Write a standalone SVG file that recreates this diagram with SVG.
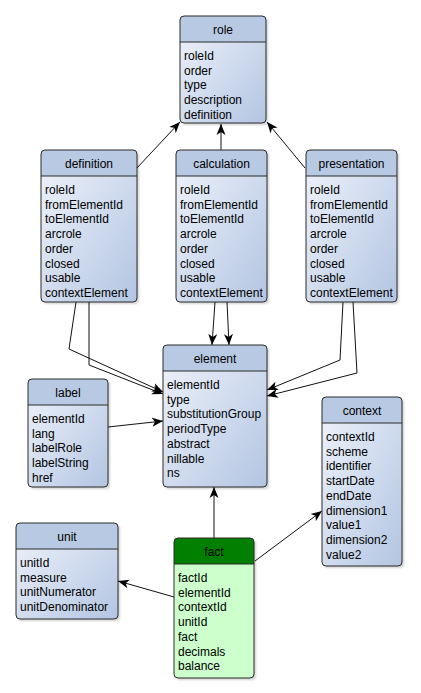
<svg xmlns="http://www.w3.org/2000/svg" width="421" height="693" viewBox="0 0 421 693">
<style>
.body{fill:url(#bg);stroke:none}
.fbody{fill:#ccffcc;stroke:none}
.hdr{fill:#b8c9e3;stroke:none}
.fhdr{fill:#007f00;stroke:none}
.out{fill:none;stroke:#2b2b2b;stroke-width:1}
.div{stroke:#2b2b2b;stroke-width:1}
.sh{fill:#000;opacity:0.18}
text{font-family:"Liberation Sans",Arial,sans-serif;font-size:12px;fill:#000}
.t{text-anchor:middle}
.c{fill:none;stroke:#111;stroke-width:1;marker-end:url(#arr)}
</style>
<defs>
<linearGradient id="bg" x1="0" y1="0" x2="1" y2="1">
<stop offset="0" stop-color="#f0f4fb"/>
<stop offset="1" stop-color="#b3c5e2"/>
</linearGradient>
<filter id="blur" x="-10%" y="-10%" width="130%" height="130%"><feGaussianBlur stdDeviation="1.2"/></filter>
<marker id="arr" markerUnits="userSpaceOnUse" markerWidth="12" markerHeight="10" viewBox="0 0 12 10" refX="11" refY="5" orient="auto">
<path d="M0,0.5 L11,5 L0,9.5 L3,5 Z" fill="#000"/>
</marker>
</defs>

<g id="connectors">
<path class="c" d="M136,169 L180,122"/>
<path class="c" d="M221,150 L221,124"/>
<path class="c" d="M305,168 L267,122"/>
<path class="c" d="M76,302 L69,349 L163,392"/>
<path class="c" d="M89,302 L89,365 L163,394"/>
<path class="c" d="M215,302 L212,345"/>
<path class="c" d="M227,302 L229,345"/>
<path class="c" d="M343,302 L340,360 L267,390"/>
<path class="c" d="M353,302 L357,373 L267,396"/>
<path class="c" d="M108,427 L163,421"/>
<path class="c" d="M214,538 L214,487"/>
<path class="c" d="M255,561 L322,511"/>
<path class="c" d="M174,597 L118,581"/>
</g>

<g id="role">
<rect class="sh" x="182" y="18" width="86" height="107" rx="4" filter="url(#blur)"/>
<rect class="body" x="180" y="16" width="86" height="107" rx="4"/>
<path class="hdr" d="M180,42 V20 Q180,16 184,16 H262 Q266,16 266,20 V42 Z"/>
<line class="div" x1="180" y1="42" x2="266" y2="42"/>
<rect class="out" x="180" y="16" width="86" height="107" rx="4"/>
<text class="t" x="223" y="33.5">role</text>
<text x="184" y="60">roleId</text>
<text x="184" y="74.7">order</text>
<text x="184" y="89.4">type</text>
<text x="184" y="104.1">description</text>
<text x="184" y="118.8">definition</text>
</g>

<g id="definition">
<rect class="sh" x="43" y="152" width="96" height="152" rx="4" filter="url(#blur)"/>
<rect class="body" x="41" y="150" width="96" height="152" rx="4"/>
<path class="hdr" d="M41,176 V154 Q41,150 45,150 H133 Q137,150 137,154 V176 Z"/>
<line class="div" x1="41" y1="176" x2="137" y2="176"/>
<rect class="out" x="41" y="150" width="96" height="152" rx="4"/>
<text class="t" x="89" y="167.5">definition</text>
<text x="45" y="194">roleId</text>
<text x="45" y="208.7">fromElementId</text>
<text x="45" y="223.4">toElementId</text>
<text x="45" y="238.1">arcrole</text>
<text x="45" y="252.8">order</text>
<text x="45" y="267.5">closed</text>
<text x="45" y="282.2">usable</text>
<text x="45" y="296.9">contextElement</text>
</g>

<g id="calculation">
<rect class="sh" x="178" y="152" width="91" height="152" rx="4" filter="url(#blur)"/>
<rect class="body" x="176" y="150" width="91" height="152" rx="4"/>
<path class="hdr" d="M176,176 V154 Q176,150 180,150 H263 Q267,150 267,154 V176 Z"/>
<line class="div" x1="176" y1="176" x2="267" y2="176"/>
<rect class="out" x="176" y="150" width="91" height="152" rx="4"/>
<text class="t" x="221.5" y="167.5">calculation</text>
<text x="180" y="194">roleId</text>
<text x="180" y="208.7">fromElementId</text>
<text x="180" y="223.4">toElementId</text>
<text x="180" y="238.1">arcrole</text>
<text x="180" y="252.8">order</text>
<text x="180" y="267.5">closed</text>
<text x="180" y="282.2">usable</text>
<text x="180" y="296.9">contextElement</text>
</g>

<g id="presentation">
<rect class="sh" x="308" y="152" width="91" height="152" rx="4" filter="url(#blur)"/>
<rect class="body" x="306" y="150" width="91" height="152" rx="4"/>
<path class="hdr" d="M306,176 V154 Q306,150 310,150 H393 Q397,150 397,154 V176 Z"/>
<line class="div" x1="306" y1="176" x2="397" y2="176"/>
<rect class="out" x="306" y="150" width="91" height="152" rx="4"/>
<text class="t" x="351.5" y="167.5">presentation</text>
<text x="310" y="194">roleId</text>
<text x="310" y="208.7">fromElementId</text>
<text x="310" y="223.4">toElementId</text>
<text x="310" y="238.1">arcrole</text>
<text x="310" y="252.8">order</text>
<text x="310" y="267.5">closed</text>
<text x="310" y="282.2">usable</text>
<text x="310" y="296.9">contextElement</text>
</g>

<g id="element">
<rect class="sh" x="165" y="347" width="104" height="142" rx="4" filter="url(#blur)"/>
<rect class="body" x="163" y="345" width="104" height="142" rx="4"/>
<path class="hdr" d="M163,371 V349 Q163,345 167,345 H263 Q267,345 267,349 V371 Z"/>
<line class="div" x1="163" y1="371" x2="267" y2="371"/>
<rect class="out" x="163" y="345" width="104" height="142" rx="4"/>
<text class="t" x="215" y="362.5">element</text>
<text x="167" y="389">elementId</text>
<text x="167" y="403.7">type</text>
<text x="167" y="418.4">substitutionGroup</text>
<text x="167" y="433.1">periodType</text>
<text x="167" y="447.8">abstract</text>
<text x="167" y="462.5">nillable</text>
<text x="167" y="477.2">ns</text>
</g>

<g id="label">
<rect class="sh" x="30" y="381" width="80" height="108" rx="4" filter="url(#blur)"/>
<rect class="body" x="28" y="379" width="80" height="108" rx="4"/>
<path class="hdr" d="M28,405 V383 Q28,379 32,379 H104 Q108,379 108,383 V405 Z"/>
<line class="div" x1="28" y1="405" x2="108" y2="405"/>
<rect class="out" x="28" y="379" width="80" height="108" rx="4"/>
<text class="t" x="68" y="396.5">label</text>
<text x="32" y="423">elementId</text>
<text x="32" y="437.7">lang</text>
<text x="32" y="452.4">labelRole</text>
<text x="32" y="467.1">labelString</text>
<text x="32" y="481.8">href</text>
</g>

<g id="context">
<rect class="sh" x="324" y="399" width="80" height="169" rx="4" filter="url(#blur)"/>
<rect class="body" x="322" y="397" width="80" height="169" rx="4"/>
<path class="hdr" d="M322,423 V401 Q322,397 326,397 H398 Q402,397 402,401 V423 Z"/>
<line class="div" x1="322" y1="423" x2="402" y2="423"/>
<rect class="out" x="322" y="397" width="80" height="169" rx="4"/>
<text class="t" x="362" y="414.5">context</text>
<text x="326" y="441">contextId</text>
<text x="326" y="455.7">scheme</text>
<text x="326" y="470.4">identifier</text>
<text x="326" y="485.1">startDate</text>
<text x="326" y="499.8">endDate</text>
<text x="326" y="514.5">dimension1</text>
<text x="326" y="529.2">value1</text>
<text x="326" y="543.9">dimension2</text>
<text x="326" y="558.6">value2</text>
</g>

<g id="unit">
<rect class="sh" x="18" y="525" width="102" height="96" rx="4" filter="url(#blur)"/>
<rect class="body" x="16" y="523" width="102" height="96" rx="4"/>
<path class="hdr" d="M16,549 V527 Q16,523 20,523 H114 Q118,523 118,527 V549 Z"/>
<line class="div" x1="16" y1="549" x2="118" y2="549"/>
<rect class="out" x="16" y="523" width="102" height="96" rx="4"/>
<text class="t" x="67" y="540.5">unit</text>
<text x="20" y="567">unitId</text>
<text x="20" y="581.7">measure</text>
<text x="20" y="596.4">unitNumerator</text>
<text x="20" y="611.1">unitDenominator</text>
</g>

<g id="fact">
<rect class="sh" x="176" y="540" width="80" height="140" rx="4" filter="url(#blur)"/>
<rect class="fbody" x="174" y="538" width="80" height="140" rx="4"/>
<path class="fhdr" d="M174,564 V542 Q174,538 178,538 H250 Q254,538 254,542 V564 Z"/>
<line class="div" x1="174" y1="564" x2="254" y2="564"/>
<rect class="out" x="174" y="538" width="80" height="140" rx="4"/>
<text class="t" x="214" y="555.5">fact</text>
<text x="178" y="582">factId</text>
<text x="178" y="596.7">elementId</text>
<text x="178" y="611.4">contextId</text>
<text x="178" y="626.1">unitId</text>
<text x="178" y="640.8">fact</text>
<text x="178" y="655.5">decimals</text>
<text x="178" y="670.2">balance</text>
</g>
</svg>
